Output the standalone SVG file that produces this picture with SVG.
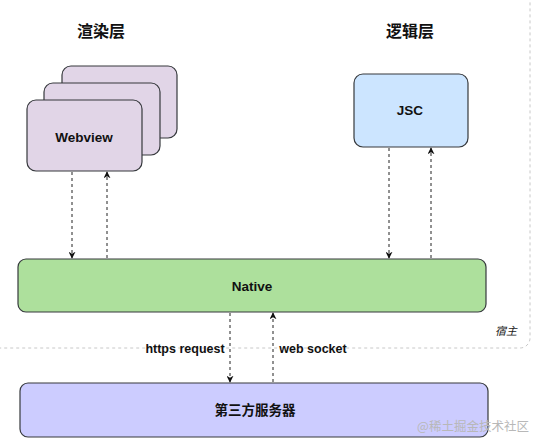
<svg xmlns="http://www.w3.org/2000/svg" width="536" height="441" viewBox="0 0 536 441">
<defs>
<style>
.t{font-family:"Liberation Sans","Noto Sans CJK SC",sans-serif;font-weight:bold;fill:#111;text-anchor:middle;dominant-baseline:central}
.box{stroke:#36393d;stroke-width:1.2}
.pur{fill:#e1d5e7}
.c{stroke:#222;stroke-width:1;stroke-dasharray:3 3;fill:none}
</style>
<marker id="ah" viewBox="0 0 10 10" refX="9" refY="5" markerWidth="7" markerHeight="7" orient="auto" markerUnits="userSpaceOnUse"><path d="M0,0 L10,5 L0,10 L3,5 z" fill="#111"/></marker>
</defs>
<rect width="536" height="441" fill="#fff"/>
<g id="host">
<rect x="-20" y="-20" width="550" height="368" rx="10" fill="none" stroke="#c8c8c8" stroke-width="1" stroke-dasharray="3 3"/>
<text x="506" y="330" font-family="'Noto Sans CJK SC',sans-serif" font-size="11" font-style="italic" fill="#222" text-anchor="middle" dominant-baseline="central">宿主</text>
</g>
<g id="title-render"><text class="t" x="101" y="31" font-size="16">渲染层</text></g>
<g id="title-logic"><text class="t" x="410" y="31" font-size="16">逻辑层</text></g>
<g id="webview">
<rect class="box pur" x="62" y="66" width="115" height="72" rx="9"/>
<rect class="box pur" x="44" y="83" width="116" height="72" rx="9"/>
<rect class="box pur" x="27" y="100" width="115" height="71" rx="9"/>
<text class="t" x="84" y="137" font-size="13.5">Webview</text>
</g>
<g id="jsc">
<rect class="box" x="354" y="74" width="114" height="73" rx="9" fill="#cce5ff"/>
<text class="t" x="410" y="110" font-size="13.5">JSC</text>
</g>
<g id="native">
<rect class="box" x="18" y="259" width="468" height="53" rx="8" fill="#ade09c"/>
<text class="t" x="252" y="286" font-size="13.5">Native</text>
</g>
<g id="server">
<rect class="box" x="20" y="383" width="468" height="54" rx="8" fill="#ccccff"/>
<text class="t" x="255" y="410" font-size="13.5">第三方服务器</text>
</g>
<g id="connectors">
<line class="c" x1="72" y1="172" x2="72" y2="258" marker-end="url(#ah)"/>
<line class="c" x1="107" y1="258" x2="107" y2="172" marker-end="url(#ah)"/>
<line class="c" x1="389" y1="148" x2="389" y2="258" marker-end="url(#ah)"/>
<line class="c" x1="431" y1="258" x2="431" y2="148" marker-end="url(#ah)"/>
<line class="c" x1="230" y1="313" x2="230" y2="382" marker-end="url(#ah)"/>
<line class="c" x1="273" y1="382" x2="273" y2="313" marker-end="url(#ah)"/>
<text class="t" x="185" y="349" font-size="12.5">https request</text>
<text class="t" x="313" y="349" font-size="12.5">web socket</text>
</g>
<g id="watermark"><text x="473" y="425" font-family="'Noto Sans CJK SC',sans-serif" font-size="12.5" fill="#b8b8b8" text-anchor="middle" dominant-baseline="central">@稀土掘金技术社区</text></g>
</svg>
